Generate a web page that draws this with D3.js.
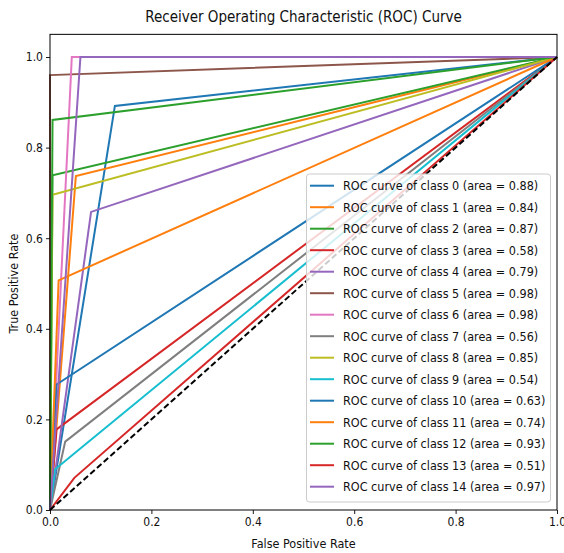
<!DOCTYPE html>
<html>
<head>
<meta charset="utf-8">
<script src="https://cdn.jsdelivr.net/npm/d3@7"></script>
<style>
  body { margin: 0; background: #fff; }
  svg text { font-family: "DejaVu Sans Condensed", "DejaVu Sans", sans-serif; fill: #111; }
</style>
</head>
<body>
<div id="chart"></div>
<script>
// one operating point per class: (fpr, tpr) between (0,0) and (1,1)
const classes = d3.range(0, 15);
const fprPoints = [0.128, 0.051, 0.005, 0.013, 0.081, 0.0, 0.043, 0.030, 0.005, 0.010, 0.013, 0.017, 0.005, 0.048, 0.060];
const tprPoints = [0.892, 0.737, 0.739, 0.178, 0.658, 0.960, 1.0, 0.151, 0.696, 0.090, 0.277, 0.507, 0.861, 0.071, 1.0];
const areas = [0.88, 0.84, 0.87, 0.58, 0.79, 0.98, 0.98, 0.56, 0.85, 0.54, 0.63, 0.74, 0.93, 0.51, 0.97];
const tab10 = ["#1f77b4", "#ff7f0e", "#2ca02c", "#d62728", "#9467bd", "#8c564b", "#e377c2", "#7f7f7f", "#bcbd22", "#17becf"];
const xTicks = [0, 0.2, 0.4, 0.6, 0.8, 1.0];
const yTicks = [0, 0.2, 0.4, 0.6, 0.8, 1.0];

const W = 564, H = 553;
const svg = d3.select("#chart").append("svg")
  .attr("width", W).attr("height", H);

svg.append("rect").attr("width", W).attr("height", H).attr("fill", "#fff");

const x = d3.scaleLinear().domain([0, 1]).range([50, 557]);
const y = d3.scaleLinear().domain([0, 1.05]).range([510, 510 - 1.05 * 453]);

// curves
const line = d3.line().x(d => x(d[0])).y(d => y(d[1]));
classes.forEach(i => {
  const pts = [[0, 0], [fprPoints[i], tprPoints[i]], [1, 1]];
  svg.append("path")
    .attr("d", line(pts))
    .attr("fill", "none")
    .attr("stroke", tab10[i % 10])
    .attr("stroke-width", 2)
    .attr("stroke-linejoin", "miter");
});

// chance line
svg.append("path")
  .attr("d", line([[0, 0], [1, 1]]))
  .attr("fill", "none")
  .attr("stroke", "#000")
  .attr("stroke-width", 2)
  .attr("stroke-dasharray", "6,3");

// frame
svg.append("rect")
  .attr("x", x(0)).attr("y", y(1.05))
  .attr("width", x(1) - x(0)).attr("height", y(0) - y(1.05))
  .attr("fill", "none").attr("stroke", "#000").attr("stroke-width", 1);

// axes
const xAxis = svg.append("g")
  .attr("transform", "translate(0," + y(0) + ")")
  .call(d3.axisBottom(x).tickValues(xTicks).tickFormat(d3.format(".1f")).tickSizeOuter(0).tickSize(4).tickPadding(3));
const yAxis = svg.append("g")
  .attr("transform", "translate(" + x(0) + ",0)")
  .call(d3.axisLeft(y).tickValues(yTicks).tickFormat(d3.format(".1f")).tickSizeOuter(0).tickSize(4).tickPadding(3));
[xAxis, yAxis].forEach(g => {
  g.select(".domain").remove();
  g.selectAll("text").style("font-size", "12px").style("font-family", null);
  g.selectAll("line").attr("stroke", "#000").attr("stroke-width", 0.9);
});

// labels
svg.append("text")
  .attr("x", (x(0) + x(1)) / 2).attr("y", 22)
  .attr("text-anchor", "middle")
  .style("font-size", "15px")
  .text("Receiver Operating Characteristic (ROC) Curve");
svg.append("text")
  .attr("x", (x(0) + x(1)) / 2).attr("y", 548)
  .attr("text-anchor", "middle")
  .style("font-size", "12.5px")
  .text("False Positive Rate");
svg.append("text")
  .attr("transform", "translate(18," + y(0.5) + ") rotate(-90)")
  .attr("text-anchor", "middle")
  .style("font-size", "12.5px")
  .text("True Positive Rate");

// legend
const leg = svg.append("g");
leg.append("rect")
  .attr("x", 306.5).attr("y", 174)
  .attr("width", 244).attr("height", 328)
  .attr("rx", 3)
  .attr("fill", "#fff").attr("fill-opacity", 0.8)
  .attr("stroke", "#cccccc").attr("stroke-width", 1);
const rowY = d3.scaleLinear().domain([0, 14]).range([185.7, 486.7]);
classes.forEach(i => {
  leg.append("line")
    .attr("x1", 310).attr("x2", 334)
    .attr("y1", rowY(i)).attr("y2", rowY(i))
    .attr("stroke", tab10[i % 10]).attr("stroke-width", 2);
  leg.append("text")
    .attr("x", 343).attr("y", rowY(i))
    .attr("dy", "0.36em")
    .style("font-size", "12.5px")
    .text("ROC curve of class " + i + " (area = " + areas[i].toFixed(2) + ")");
});
</script>
</body>
</html>
